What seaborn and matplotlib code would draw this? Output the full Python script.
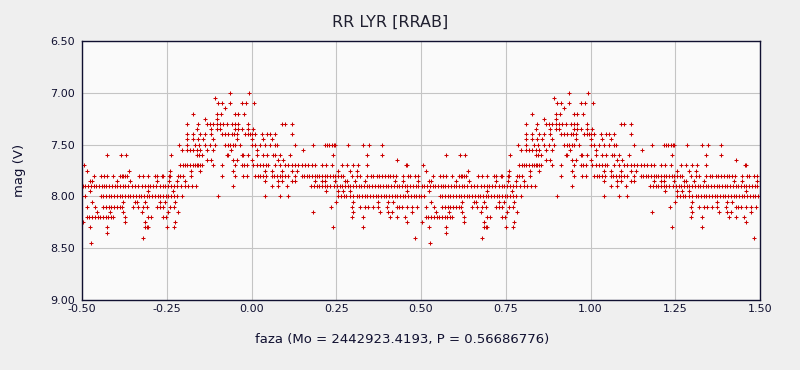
import numpy as np
import pandas as pd
import matplotlib
matplotlib.use("Agg")
import matplotlib.pyplot as plt
import seaborn as sns

# phase-folded visual estimates of RR Lyr, one cycle (-0.5 .. 0.5),
# grouped by magnitude level
p_700 = [-0.063, -0.007]
p_705 = [-0.108]
p_710 = [-0.100, -0.086, -0.063, -0.027, -0.017, 0.007]
p_715 = [-0.078]
p_720 = [-0.172, -0.103, -0.090, -0.049, -0.039, -0.021]
p_725 = [-0.137, -0.103]
p_730 = [-0.189, -0.157, -0.132, -0.122, -0.113, -0.103, -0.093, -0.083, -0.073,
         -0.058, -0.049, -0.039, -0.009, 0.089, 0.099, 0.118]
p_735 = [-0.162, -0.118, -0.103, -0.093, -0.049, -0.039, -0.029, -0.009, 0.005]
p_740 = [-0.189, -0.174, -0.152, -0.137, -0.119, -0.088, -0.078, -0.068, -0.058,
         -0.051, -0.044, -0.019, -0.011, -0.004, 0.002, 0.010, 0.030, 0.045,
         0.055, 0.069, 0.118]
p_745 = [-0.189, -0.172, -0.157, -0.142, -0.113, -0.044, 0.000, 0.035, 0.059]
p_750 = [-0.213, -0.189, -0.167, -0.155, -0.137, -0.122, -0.108, -0.078, -0.070,
         -0.062, -0.055, -0.049, -0.034, 0.000, 0.010, 0.025, 0.040, 0.054,
         0.069, 0.074, 0.128, 0.182, 0.217, 0.224, 0.230, 0.236, 0.242, 0.246,
         0.286, 0.328, 0.348, 0.384]
p_755 = [-0.206, -0.191, -0.181, -0.172, -0.162, -0.152, -0.132, -0.113, -0.059,
         0.015, 0.153]
p_760 = [-0.427, -0.386, -0.370, -0.237, -0.162, -0.155, -0.147, -0.073, -0.068,
         -0.029, -0.024, -0.009, 0.015, 0.035, 0.045, 0.064, 0.069, 0.084,
         0.113, 0.241, 0.342, 0.384]
p_765 = [-0.132, -0.118, -0.054, -0.044, 0.000, 0.079, 0.094, 0.430]
p_770 = [-0.494, -0.211, -0.203, -0.196, -0.189, -0.181, -0.174, -0.167, -0.160,
         -0.152, -0.157, -0.147, -0.113, -0.088, -0.049, -0.029, -0.021, -0.014,
         0.005, 0.015, 0.025, 0.035, 0.042, 0.050, 0.069, 0.084, 0.099, 0.109,
         0.118, 0.128, 0.138, 0.148, 0.158, 0.167, 0.177, 0.187, 0.207, 0.220,
         0.237, 0.266, 0.281, 0.300, 0.315, 0.342, 0.456, 0.458]
p_775 = [-0.484, -0.360, -0.240, -0.177, -0.152, -0.054, 0.040, 0.059, 0.089,
         0.118, 0.133, 0.256, 0.291, 0.310]
p_780 = [-0.465, -0.445, -0.435, -0.427, -0.408, -0.388, -0.383, -0.378, -0.373,
         -0.368, -0.331, -0.319, -0.304, -0.285, -0.280, -0.265, -0.260, -0.242,
         -0.239, -0.216, -0.211, -0.201, -0.177, -0.088, -0.049, -0.024, -0.014,
         0.010, 0.018, 0.026, 0.034, 0.042, 0.059, 0.067, 0.075, 0.083, 0.091,
         0.099, 0.109, 0.128, 0.148, 0.156, 0.164, 0.171, 0.179, 0.187, 0.192,
         0.200, 0.208, 0.216, 0.224, 0.232, 0.239, 0.247, 0.255, 0.263, 0.271,
         0.295, 0.310, 0.320, 0.340, 0.352, 0.359, 0.369, 0.376, 0.384, 0.394,
         0.402, 0.410, 0.417, 0.425, 0.448, 0.463, 0.468, 0.483, 0.492]
p_785 = [-0.476, -0.471, -0.398, -0.357, -0.280, -0.242, -0.221, -0.196, 0.040,
         0.079, 0.089, 0.118, 0.128, 0.187, 0.207, 0.217, 0.246, 0.276, 0.281,
         0.305, 0.335, 0.423, 0.448, 0.492]
p_790 = [-0.498, -0.490, -0.482, -0.474, -0.466, -0.458, -0.450, -0.442, -0.434,
         -0.428, -0.420, -0.412, -0.404, -0.396, -0.388, -0.380, -0.372, -0.364,
         -0.352, -0.344, -0.336, -0.322, -0.314, -0.306, -0.298, -0.290, -0.282,
         -0.270, -0.262, -0.254, -0.246, -0.236, -0.228, -0.220, -0.208, -0.196,
         -0.186, -0.176, -0.164, -0.054, 0.059, 0.079, 0.104, 0.176, 0.184,
         0.192, 0.200, 0.208, 0.216, 0.224, 0.232, 0.244, 0.252, 0.260, 0.268,
         0.276, 0.284, 0.292, 0.300, 0.308, 0.316, 0.324, 0.332, 0.340, 0.348,
         0.356, 0.364, 0.372, 0.380, 0.388, 0.396, 0.404, 0.412, 0.420, 0.428,
         0.436, 0.444, 0.452, 0.460, 0.468, 0.476, 0.484, 0.492]
p_795 = [-0.476, -0.304, -0.231, 0.220, 0.256, 0.271, 0.291, 0.458]
p_800 = [-0.501, -0.491, -0.445, -0.437, -0.429, -0.421, -0.413, -0.405, -0.397,
         -0.389, -0.381, -0.373, -0.365, -0.357, -0.349, -0.341, -0.333, -0.325,
         -0.317, -0.309, -0.301, -0.293, -0.285, -0.277, -0.269, -0.261, -0.253,
         -0.245, -0.237, -0.229, -0.219, -0.206, -0.098, 0.040, 0.084, 0.109,
         0.256, 0.264, 0.272, 0.280, 0.290, 0.300, 0.310, 0.318, 0.326, 0.334,
         0.342, 0.350, 0.358, 0.366, 0.374, 0.382, 0.390, 0.398, 0.406, 0.414,
         0.422, 0.430, 0.438, 0.446, 0.454, 0.462, 0.470, 0.478, 0.486, 0.494]
p_805 = [-0.471, -0.378, -0.344, -0.339, -0.314, -0.270, -0.255, -0.226, 0.249,
         0.300, 0.374, 0.404, 0.418]
p_810 = [-0.486, -0.462, -0.437, -0.429, -0.421, -0.413, -0.405, -0.397, -0.389,
         -0.381, -0.349, -0.334, -0.319, -0.309, -0.280, -0.270, -0.260, -0.240,
         -0.229, 0.234, 0.296, 0.320, 0.335, 0.345, 0.359, 0.374, 0.399, 0.428,
         0.436, 0.443, 0.458, 0.472, 0.487]
p_815 = [-0.457, -0.417, -0.378, -0.324, -0.245, -0.216, 0.181, 0.300, 0.379,
         0.404, 0.413, 0.472]
p_820 = [-0.486, -0.478, -0.470, -0.462, -0.454, -0.446, -0.438, -0.430, -0.422,
         -0.414, -0.408, -0.373, -0.304, -0.295, -0.260, -0.252, 0.296, 0.330,
         0.409, 0.428, 0.453]
p_825 = [-0.496, -0.373, -0.314, -0.226, 0.458]
p_830 = [-0.476, -0.425, -0.314, -0.309, -0.304, -0.248, -0.228, 0.241, 0.330]
p_835 = [-0.425]
p_840 = [-0.319, 0.482]
p_845 = [-0.474]

levels = [7.00, 7.05, 7.10, 7.15, 7.20, 7.25, 7.30, 7.35, 7.40, 7.45, 7.50,
          7.55, 7.60, 7.65, 7.70, 7.75, 7.80, 7.85, 7.90, 7.95, 8.00, 8.05,
          8.10, 8.15, 8.20, 8.25, 8.30, 8.35, 8.40, 8.45]
rows = [p_700, p_705, p_710, p_715, p_720, p_725, p_730, p_735, p_740, p_745,
        p_750, p_755, p_760, p_765, p_770, p_775, p_780, p_785, p_790, p_795,
        p_800, p_805, p_810, p_815, p_820, p_825, p_830, p_835, p_840, p_845]

x_ticks = [-0.50, -0.25, 0.00, 0.25, 0.50, 0.75, 1.00, 1.25, 1.50]
y_ticks = [6.50, 7.00, 7.50, 8.00, 8.50, 9.00]

frames = []
for m, ph in zip(levels, rows):
    frames.append(pd.DataFrame({"faza": ph, "mag": m}))
one = pd.concat(frames, ignore_index=True)
two = one.copy()
two["faza"] = two["faza"] + 1.0
df = pd.concat([one, two], ignore_index=True)

sns.set_style("whitegrid")
plt.rcParams["font.family"] = ["DejaVu Sans"]

fig = plt.figure(figsize=(8, 3.7), dpi=100, facecolor="#efefef")
ax = fig.add_axes([82 / 800, 1 - 300 / 370, 678 / 800, 259 / 370])
ax.set_facecolor("#fafafa")

sns.scatterplot(ax=ax, data=df, x="faza", y="mag", marker="+", color="#cc0000",
                s=10, linewidth=0.75, legend=False)

ax.set_xlim(-0.5, 1.5)
ax.set_ylim(9.0, 6.5)
ax.set_xticks(x_ticks)
ax.set_yticks(y_ticks)
ax.set_xticklabels(["%.2f" % t for t in x_ticks])
ax.set_yticklabels(["%.2f" % t for t in y_ticks])
ax.grid(True, color="#c4c4c4", linewidth=0.8)
for s in ax.spines.values():
    s.set_color("#101030")
    s.set_linewidth(1.0)
ax.tick_params(axis="x", direction="in", length=4, color="#101030",
               labelsize=8, labelcolor="#101030", pad=3)
ax.tick_params(axis="y", direction="out", length=3, color="#101030",
               labelsize=8, labelcolor="#101030", pad=2)
ax.set_xlabel("")
ax.set_ylabel("")

fig.text(390 / 800, 1 - 22 / 370, "RR LYR [RRAB]", ha="center", va="center",
         fontsize=11.5, color="#202030")
fig.text(402 / 800, 1 - 340 / 370, "faza (Mo = 2442923.4193, P = 0.56686776)",
         ha="center", va="center", fontsize=9.5, color="#101030")
fig.text(20 / 800, 1 - 170 / 370, "mag (V)", ha="center", va="center",
         rotation=90, fontsize=9.5, color="#101030")

fig.savefig("out.png", dpi=100, facecolor=fig.get_facecolor())
